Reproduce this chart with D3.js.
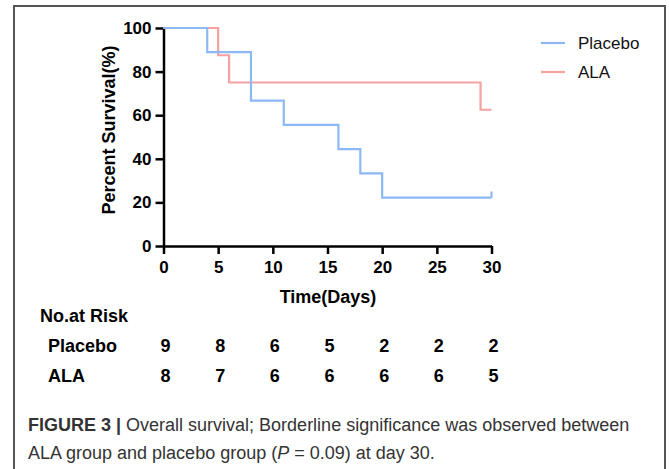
<!DOCTYPE html>
<html>
<head>
<meta charset="utf-8">
<script src="https://cdn.jsdelivr.net/npm/d3@7"></script>
<style>
  body { margin: 0; background: #fff; }
  svg { display: block; font-family: "Liberation Sans", Arial, sans-serif; }
</style>
</head>
<body>
<script>
// ** Data
const groups = ["Placebo", "ALA"];
const groupColors = ["#8cb9f6", "#f7a1a1"];
// step curves: [day, percent survival]
const placeboSteps = [[0, 100], [4, 88.9], [8, 66.7], [11, 55.6], [16, 44.4], [18, 33.3], [20, 22.2], [30, 22.2]];
const alaSteps = [[0, 100], [5, 87.5], [6, 75], [29, 62.5], [30, 62.5]];
const riskDays = [0, 5, 10, 15, 20, 25, 30];
const placeboRisk = [9, 8, 6, 5, 2, 2, 2];
const alaRisk = [8, 7, 6, 6, 6, 6, 5];
const yTicks = [0, 20, 40, 60, 80, 100];
const xTicks = [0, 5, 10, 15, 20, 25, 30];

const W = 669, H = 469;
const svg = d3.select("body").append("svg").attr("width", W).attr("height", H);

// frame around the figure
svg.append("path")
  .attr("d", `M14,${H} V6 H665 V${H}`)
  .attr("fill", "none")
  .attr("stroke", "#555")
  .attr("stroke-width", 2);

const x = d3.scaleLinear().domain([0, 30]).range([163.5, 491.5]);
const y = d3.scaleLinear().domain([0, 100]).range([246, 28]);

// axes
const xAxis = svg.append("g")
  .attr("transform", `translate(0,${y(0)})`)
  .call(d3.axisBottom(x).tickValues(xTicks).tickSize(8).tickSizeOuter(0).tickPadding(7));
const yAxis = svg.append("g")
  .attr("transform", `translate(${x(0)},0)`)
  .call(d3.axisLeft(y).tickValues(yTicks).tickSize(8).tickSizeOuter(0).tickPadding(4));

[xAxis, yAxis].forEach(ax => {
  ax.attr("font-size", 17).attr("font-family", "Liberation Sans, Arial, sans-serif");
  ax.select(".domain").attr("stroke", "#000").attr("stroke-width", 2.5);
  ax.selectAll(".tick line").attr("stroke", "#000").attr("stroke-width", 2.5);
  ax.selectAll(".tick text")
    .attr("fill", "#000")
    .attr("font-weight", "bold");
});

// axis titles
svg.append("text")
  .attr("x", 328).attr("y", 303)
  .attr("text-anchor", "middle")
  .attr("font-size", 18).attr("font-weight", "bold")
  .text("Time(Days)");
svg.append("text")
  .attr("transform", `translate(115,${(y(0) + y(100)) / 2 - 7}) rotate(-90)`)
  .attr("text-anchor", "middle")
  .attr("font-size", 18).attr("font-weight", "bold")
  .text("Percent Survival(%)");

// survival curves
const line = d3.line().x(d => x(d[0])).y(d => y(d[1])).curve(d3.curveStepAfter);
const curves = [placeboSteps, alaSteps];
// draw ALA first so placebo sits above it where they overlap
[1, 0].forEach(i => {
  svg.append("path")
    .datum(curves[i])
    .attr("d", line)
    .attr("fill", "none")
    .attr("stroke", groupColors[i])
    .attr("stroke-width", 2.2);
});
// censor tick at the end of the placebo curve
svg.append("line")
  .attr("x1", x(30)).attr("x2", x(30))
  .attr("y1", y(22.2)).attr("y2", y(25))
  .attr("stroke", groupColors[0]).attr("stroke-width", 2.2);

// legend
const legend = svg.append("g");
groups.forEach((g, i) => {
  const ly = 43 + i * 29;
  legend.append("line")
    .attr("x1", 541).attr("x2", 565).attr("y1", ly).attr("y2", ly)
    .attr("stroke", groupColors[i]).attr("stroke-width", 2.2);
  legend.append("text")
    .attr("x", 578).attr("y", ly + 6)
    .attr("font-size", 17).attr("fill", "#111")
    .text(g);
});

// number at risk table
svg.append("text")
  .attr("x", 40).attr("y", 322)
  .attr("font-size", 18).attr("font-weight", "bold")
  .text("No.at Risk");
const riskRows = [placeboRisk, alaRisk];
groups.forEach((g, i) => {
  const ry = 352 + i * 30;
  svg.append("text")
    .attr("x", 48).attr("y", ry)
    .attr("font-size", 18).attr("font-weight", "bold")
    .text(g);
  svg.selectAll(null)
    .data(riskRows[i])
    .join("text")
    .attr("x", (d, j) => x(riskDays[j]) + 2)
    .attr("y", ry)
    .attr("text-anchor", "middle")
    .attr("font-size", 18).attr("font-weight", "bold")
    .text(d => d);
});

// caption
const cap1 = svg.append("text")
  .attr("x", 28).attr("y", 431)
  .attr("font-size", 18).attr("fill", "#333");
cap1.append("tspan").attr("font-weight", "bold").text("FIGURE 3 | ");
cap1.append("tspan").text("Overall survival; Borderline significance was observed between");
const cap2 = svg.append("text")
  .attr("x", 28).attr("y", 459)
  .attr("font-size", 18).attr("fill", "#333");
cap2.append("tspan").text("ALA group and placebo group (");
cap2.append("tspan").attr("font-style", "italic").text("P");
cap2.append("tspan").text(" = 0.09) at day 30.");
</script>
</body>
</html>
